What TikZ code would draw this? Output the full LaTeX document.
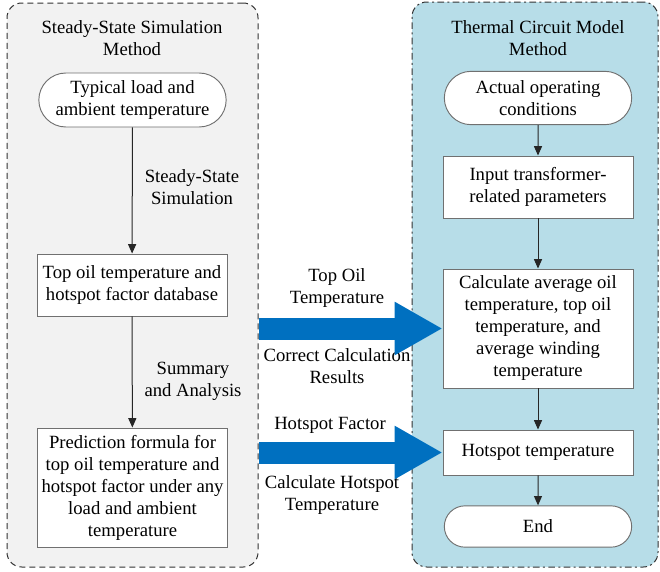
\documentclass[tikz,border=0pt]{standalone}
\usepackage{fontspec}
\setmainfont{LiberationSerif}[Extension=.ttf, UprightFont=*-Regular, BoldFont=*-Bold]
\usetikzlibrary{shapes.misc,arrows.meta}
\definecolor{leftbg}{HTML}{F2F2F2}
\definecolor{rightbg}{HTML}{B7DDE8}
\definecolor{bigblue}{HTML}{0070C0}
\definecolor{boxline}{HTML}{707070}
\begin{document}
\begin{tikzpicture}[x=0.75pt,y=-0.75pt,
  txt/.style={font=\fontsize{14pt}{16.5pt}\selectfont, align=center, text=black},
  stepbox/.style={txt, draw=boxline, fill=white, line width=0.7pt, rectangle, inner sep=1pt, minimum width=142.5pt},
  termbox/.style={txt, draw=boxline, fill=white, line width=0.7pt, rounded rectangle, inner sep=1pt, minimum width=142.5pt},
  lpanel/.style={draw=black!80, fill=leftbg, line width=0.75pt, dash pattern=on 4.5pt off 3pt, rounded corners=11pt},
  rpanel/.style={draw=black!80, fill=rightbg, line width=0.75pt, dash pattern=on 5pt off 2.5pt on 1.5pt off 2.5pt, rounded corners=11pt},
  flow/.style={draw=black!85, line width=0.75pt, -{Triangle[length=7pt,width=6pt]}},
  bigarrow/.style={draw=bigblue, line width=16.5pt, -{Triangle[length=36pt,width=37.5pt]}},
  lbl/.style={txt}
]
\useasboundingbox (0,0) rectangle (660,571);
% left panel
\node[lpanel, minimum width=188.25pt, minimum height=423pt, inner sep=0] (lp) at (132.5,285) {};
\node[lbl] (ltitle) at (132,38) {Steady-State Simulation\\Method};
\node[termbox, minimum height=40.5pt] (start1) at (132.5,100) {Typical load and\\ambient temperature};
\node[stepbox, minimum height=46.5pt] (topoil) at (132,285) {Top oil temperature and\\hotspot factor database};
\node[stepbox, minimum height=89.25pt] (pred) at (132.5,487.5) {Prediction formula for\\top oil temperature and\\hotspot factor under any\\load and ambient\\temperature};
\node[lbl] (l1) at (192,187) {Steady-State\\Simulation};
\node[lbl] (l2) at (193,381) {Summary\\and Analysis};
\draw[flow] (start1) -- (topoil);
\draw[flow] (topoil) -- (pred);
% middle labels
\node[lbl] (m1) at (337,288) {Top Oil\\Temperature};
\node[lbl] (m2) at (337,366) {Correct Calculation\\Results};
\node[lbl] (m3) at (330,425) {Hotspot Factor};
\node[lbl] (m4) at (332,495) {Calculate Hotspot\\Temperature};
% right panel
\node[rpanel, minimum width=184.5pt, minimum height=423.75pt, inner sep=0] (rp) at (535,284.5) {};
\node[lbl] (rtitle) at (538,38) {Thermal Circuit Model\\Method};
\node[termbox, minimum height=40pt] (start2) at (538,98) {Actual operating\\conditions};
\node[stepbox, minimum height=46.5pt] (input) at (538,187) {Input transformer-\\related parameters};
\node[stepbox, minimum height=89.25pt] (calc) at (538,328.5) {Calculate average oil\\temperature, top oil\\temperature, and\\average winding\\temperature};
\node[stepbox, minimum height=33.75pt] (hot) at (538,452.5) {Hotspot temperature};
\node[termbox, minimum height=31pt] (endn) at (538,526.5) {End};
\draw[flow] (start2) -- (input);
\draw[flow] (input) -- (calc);
\draw[flow] (calc) -- (hot);
\draw[flow] (hot) -- (endn);
% big arrows
\draw[bigarrow] (lp.east |- calc.west) -- (calc.west);
\draw[bigarrow] (lp.east |- hot.west) -- (hot.west);
\end{tikzpicture}
\end{document}
